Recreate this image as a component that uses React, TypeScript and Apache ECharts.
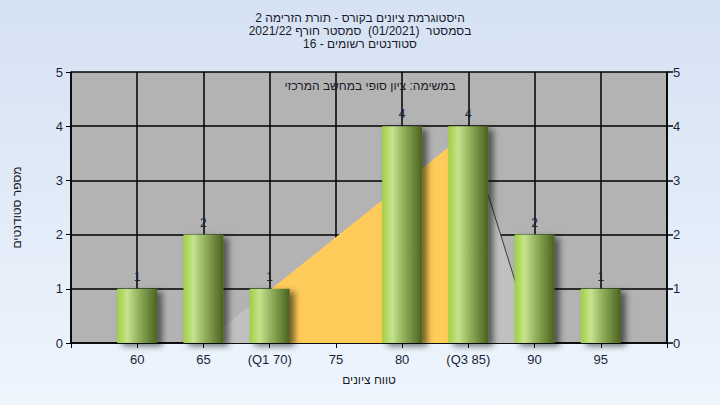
import React, { useEffect, useRef } from "react";
import * as echarts from "echarts";

const titleLines = [
  "היסטוגרמת ציונים בקורס - תורת הזרימה 2",
  "בסמסטר  (01/2021)  סמסטר חורף 2021/22",
  "סטודנטים רשומים - 16",
];
const subtitle = "במשימה: ציון סופי במחשב המרכזי";
const xAxisName = "טווח ציונים";
const yAxisName = "מספר סטודנטים";

const grades = [60, 65, 70, 75, 80, 85, 90, 95];
const counts = [1, 2, 1, 0, 4, 4, 2, 1];
const tickLabels: Record<number, string> = {
  60: "60",
  65: "65",
  70: "(Q1 70)",
  75: "75",
  80: "80",
  85: "(Q3 85)",
  90: "90",
  95: "95",
};
// distribution triangle behind the bars
const curveX = [65, 85, 90];
const curveY = [0, 3.9, 0];
const q1 = 70;
const q3 = 85;

const FONT = "'Liberation Sans', 'DejaVu Sans', Arial, sans-serif";

export default function App() {
  const ref = useRef<HTMLDivElement>(null);
  useEffect(() => {
    if (!ref.current) return;
    const chart = echarts.init(ref.current, undefined, { renderer: "svg" });
    const barData = grades
      .map((g, i) => [g, counts[i]])
      .filter((d) => d[1] > 0);
    const triangle = curveX.map((x, i) => [x, curveY[i]]);
    const yAt = (x: number) => {
      for (let i = 0; i < curveX.length - 1; i++) {
        if (x >= curveX[i] && x <= curveX[i + 1]) {
          const t = (x - curveX[i]) / (curveX[i + 1] - curveX[i]);
          return curveY[i] + t * (curveY[i + 1] - curveY[i]);
        }
      }
      return 0;
    };
    const yellow: number[][] = [[q1, yAt(q1)]];
    curveX.forEach((x, i) => {
      if (x > q1 && x < q3) yellow.push([x, curveY[i]]);
    });
    yellow.push([q3, yAt(q3)]);
    const rightEdge = triangle.slice(1);

    const axisLabelStyle = { color: "#1a1f3a", fontSize: 13, fontFamily: FONT };
    const blackLine = { color: "#000", width: 1.5 };

    chart.setOption({
      animation: false,
      backgroundColor: new echarts.graphic.LinearGradient(0, 0, 0, 1, [
        { offset: 0, color: "#d5e2f3" },
        { offset: 1, color: "#eef5fd" },
      ]),
      title: {
        text: titleLines.join("\n"),
        left: "center",
        top: 11,
        padding: 0,
        textStyle: {
          fontSize: 12,
          lineHeight: 13,
          fontWeight: "normal",
          color: "#1a1a2a",
          fontFamily: FONT,
        },
      },
      grid: {
        left: 71,
        right: 53,
        top: 72,
        bottom: 62,
        show: true,
        backgroundColor: "#b3b3b3",
        borderWidth: 0,
      },
      graphic: [
        {
          type: "text",
          x: 370,
          y: 86,
          style: {
            text: subtitle,
            fill: "#1a1a2a",
            font: `12px ${FONT}`,
            textAlign: "center",
            textVerticalAlign: "middle",
          },
          z: 100,
        },
      ],
      xAxis: {
        type: "value",
        min: 55,
        max: 100,
        interval: 5,
        name: xAxisName,
        nameLocation: "middle",
        nameGap: 31,
        nameTextStyle: { color: "#1a1a2a", fontSize: 12, fontFamily: FONT },
        axisLine: { show: true, onZero: false, lineStyle: blackLine },
        axisTick: { show: true, length: 5, lineStyle: { color: "#000", width: 1 } },
        axisLabel: {
          ...axisLabelStyle,
          margin: 10,
          formatter: (v: number) => tickLabels[v] ?? "",
        },
        splitLine: { show: true, lineStyle: blackLine },
      },
      yAxis: [
        {
          type: "value",
          min: 0,
          max: 5,
          interval: 1,
          position: "left",
          name: yAxisName,
          nameLocation: "middle",
          nameGap: 48,
          nameRotate: 90,
          nameTextStyle: { color: "#1a1a2a", fontSize: 12, fontFamily: FONT },
          axisLine: { show: true, lineStyle: blackLine },
          axisTick: { show: true, length: 5, lineStyle: { color: "#000", width: 1 } },
          axisLabel: { ...axisLabelStyle, margin: 8 },
          splitLine: { show: true, lineStyle: blackLine },
        },
        {
          type: "value",
          min: 0,
          max: 5,
          interval: 1,
          position: "right",
          axisLine: { show: true, lineStyle: blackLine },
          axisTick: { show: true, length: 6, lineStyle: { color: "#000", width: 1.5 } },
          axisLabel: { ...axisLabelStyle, margin: 6 },
          splitLine: { show: false },
        },
      ],
      series: [
        {
          type: "line",
          data: triangle,
          symbol: "none",
          lineStyle: { width: 0 },
          areaStyle: { color: "#c0c0c0", opacity: 1 },
          z: 1,
          silent: true,
        },
        {
          type: "line",
          data: yellow,
          symbol: "none",
          lineStyle: { width: 0 },
          areaStyle: { color: "#ffcb5a", opacity: 1 },
          z: 2,
          silent: true,
        },
        {
          type: "line",
          data: rightEdge,
          symbol: "none",
          lineStyle: { width: 1, color: "#3a3a3a" },
          z: 3,
          silent: true,
        },
        {
          type: "bar",
          data: barData,
          barWidth: 40,
          z: 5,
          itemStyle: {
            color: new echarts.graphic.LinearGradient(0, 0, 1, 0, [
              { offset: 0, color: "#a0cf42" },
              { offset: 0.25, color: "#c6e38e" },
              { offset: 0.55, color: "#8fae5a" },
              { offset: 1, color: "#4a621f" },
            ]),
            shadowColor: "rgba(0,0,0,0.55)",
            shadowBlur: 6,
            shadowOffsetX: 5,
            shadowOffsetY: 3,
          },
          label: {
            show: true,
            position: "top",
            distance: 6,
            color: "#1a1f3a",
            fontSize: 12,
            fontFamily: FONT,
          },
        },
      ],
    });
    return () => chart.dispose();
  }, []);
  return (
    <div
      ref={ref}
      style={{ position: "fixed", left: 0, top: 0, width: 720, height: 405 }}
    />
  );
}
